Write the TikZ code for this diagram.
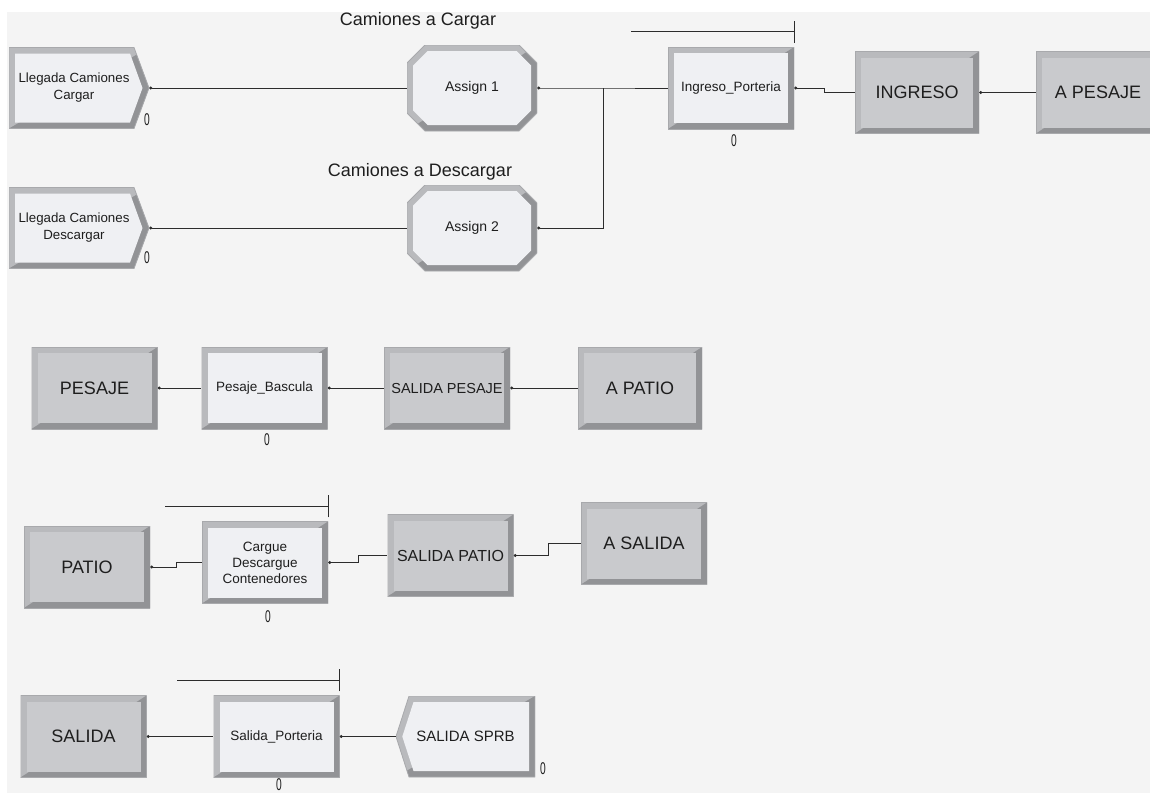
\documentclass[tikz,border=0pt]{standalone}
\usepackage{fontspec}
\setmainfont{Liberation Sans}
\usepackage{graphicx}
\usetikzlibrary{arrows.meta}

\definecolor{backgray}{HTML}{F4F4F4}
\definecolor{modlight}{HTML}{EFF0F3}
\definecolor{moddark}{HTML}{C9CACD}
\definecolor{bevlight}{HTML}{B9BABD}
\definecolor{bevdark}{HTML}{929396}
\definecolor{edgegray}{HTML}{A8A9AC}
\definecolor{textgray}{HTML}{1E1E1E}
\definecolor{linegray}{HTML}{2C2C2C}

\def\ppb{path picture bounding box}
\newcommand\ppcorners{\path (\ppb.north west) coordinate (nw) (\ppb.north east) coordinate (ne)
  (\ppb.south west) coordinate (sw) (\ppb.south east) coordinate (se)
  (\ppb.east) coordinate (ea) (\ppb.west) coordinate (we);}
\newcommand\bevelfill[3]{%
  \begin{scope}
    \clip #1;
    \fill[bevlight] (sw) rectangle (ne);
    \fill[bevdark] (sw) -- (se) -- (ne) -- cycle;
    \fill[#3] #2;
  \end{scope}
  \draw[edgegray, line width=0.8pt] #1;}
\newcommand\contador{\scalebox{0.6}[1]{0}}

\tikzstyle{module}    = [rectangle, inner sep=0pt, minimum width=126pt, minimum height=82pt, fill=backgray,
                         text=textgray, align=center, font=\fontsize{18}{20}\selectfont]
\tikzstyle{procfont}  = [font=\fontsize{13.5}{16}\selectfont]
\tikzstyle{title}     = [inner sep=0pt, text=textgray, font=\fontsize{18}{20}\selectfont]
\tikzstyle{counter}   = [inner sep=0pt, text=textgray, font=\fontsize{17}{17}\selectfont]
\tikzstyle{conn}      = [draw=linegray, line width=0.9pt, {Circle[length=3pt]}-]
\tikzstyle{queueline} = [draw=linegray, line width=0.9pt]

\tikzset{
  boxmod/.style={module, path picture={\ppcorners
      \bevelfill{(nw) rectangle (se)}{([shift={(6pt,-6pt)}]nw) rectangle ([shift={(-6pt,6pt)}]se)}{#1}}},
  boxmod/.default=moddark,
  createmod/.style={module, minimum width=140pt, minimum height=81pt, font=\fontsize{13.3}{17}\selectfont,
    path picture={\ppcorners
      \bevelfill{(nw) -- ([xshift=-15pt]ne) -- (ea) -- ([xshift=-15pt]se) -- (sw) -- cycle}
        {([shift={(6pt,-6pt)}]nw) -- ([shift={(-19pt,-6pt)}]ne) -- ([xshift=-6.5pt]ea)
         -- ([shift={(-19pt,6pt)}]se) -- ([shift={(6pt,6pt)}]sw) -- cycle}{modlight}}},
  assignmod/.style={module, minimum width=130pt, minimum height=86pt, font=\fontsize{14}{16}\selectfont,
    path picture={\ppcorners
      \bevelfill{([xshift=18pt]nw) -- ([xshift=-18pt]ne) -- ([yshift=-18pt]ne) -- ([yshift=18pt]se)
         -- ([xshift=-18pt]se) -- ([xshift=18pt]sw) -- ([yshift=18pt]sw) -- ([yshift=-18pt]nw) -- cycle}
        {([shift={(20.5pt,-6pt)}]nw) -- ([shift={(-20.5pt,-6pt)}]ne) -- ([shift={(-6pt,-20.5pt)}]ne)
         -- ([shift={(-6pt,20.5pt)}]se) -- ([shift={(-20.5pt,6pt)}]se) -- ([shift={(20.5pt,6pt)}]sw)
         -- ([shift={(6pt,20.5pt)}]sw) -- ([shift={(6pt,-20.5pt)}]nw) -- cycle}{modlight}}},
  disposemod/.style={module, minimum width=139pt, minimum height=81pt, font=\fontsize{15}{17}\selectfont,
    path picture={\ppcorners
      \bevelfill{([xshift=13pt]nw) -- (ne) -- (se) -- ([xshift=13pt]sw) -- (we) -- cycle}
        {([shift={(17.5pt,-6pt)}]nw) -- ([shift={(-6pt,-6pt)}]ne) -- ([shift={(-6pt,6pt)}]se)
         -- ([shift={(17.5pt,6pt)}]sw) -- ([xshift=6.3pt]we) -- cycle}{modlight}}},
}

\begin{document}
\begin{tikzpicture}[x=1pt, y=-1pt]
    \useasboundingbox (0,0) rectangle (1150,793);
    \clip (0,0) rectangle (1150,793);
    \fill[white] (0,0) rectangle (1150,793);
    \fill[backgray] (7,12) rectangle (1150,793);

    % llegadas y asignaciones
    \node (crea1)     [createmod] at (79,88)   {Llegada Camiones\hspace*{10pt}\\Cargar\hspace*{10pt}};
    \node (crea2)     [createmod] at (79,228)  {Llegada Camiones\hspace*{10pt}\\Descargar\hspace*{10pt}};
    \node (asig1)     [assignmod] at (472,88)  {Assign 1};
    \node (asig2)     [assignmod] at (472,228) {Assign 2};
    \node (tcargar)   [title]     at (418,21)  {Camiones a Cargar};
    \node (tdescarga) [title]     at (420,172) {Camiones a Descargar};
    \coordinate (junta) at (603,88);

    % porteria de ingreso
    \node (ingpor)  [boxmod=modlight, procfont]   at (731,88)    {Ingreso\_Porteria};
    \node (ingreso) [boxmod, minimum width=124pt] at (917,92.5)  {INGRESO};
    \node (apesaje) [boxmod, minimum width=124pt] at (1098,92.5) {A PESAJE};

    % pesaje
    \node (pesaje)  [boxmod]                    at (94.5,388)  {PESAJE};
    \node (pesbas)  [boxmod=modlight, procfont] at (264.5,388) {Pesaje\_Bascula};
    \node (salpes)  [boxmod, font=\fontsize{14.5}{16}\selectfont] at (447,388) {SALIDA PESAJE};
    \node (apatio)  [boxmod, minimum width=124pt] at (640,388) {A PATIO};

    % patio
    \node (patio)   [boxmod]                    at (87,567)    {PATIO};
    \node (cargue)  [boxmod=modlight, procfont] at (265,562.5) {Cargue\\Descargue\\Contenedores};
    \node (salpat)  [boxmod, font=\fontsize{16}{18}\selectfont] at (450.5,555.5) {SALIDA PATIO};
    \node (asalida) [boxmod]                    at (644,543.5) {A SALIDA};

    % salida
    \node (salida)  [boxmod]                    at (83.5,736.5)  {SALIDA};
    \node (salpor)  [boxmod=modlight, procfont] at (276.5,736.5) {Salida\_Porteria};
    \node (sprb)    [disposemod]                at (465.5,736.5) {SALIDA SPRB};

    % contadores
    \node (n1) [counter] at (147,120) {\contador};
    \node (n2) [counter] at (147,258) {\contador};
    \node (n3) [counter] at (734,141) {\contador};
    \node (n4) [counter] at (267,440) {\contador};
    \node (n5) [counter] at (268,617) {\contador};
    \node (n6) [counter] at (279,785) {\contador};
    \node (n7) [counter] at (543,769) {\contador};

    % colas
    \foreach \p in {ingpor, cargue, salpor} {
        \draw[queueline] ([yshift=15pt]\p.north east) -- ++(-163pt,0pt);
        \draw[queueline] ([yshift=4pt]\p.north east) -- ([yshift=26pt]\p.north east);
    }

    % conexiones
    \draw[conn] (crea1.east)   -- (asig1.west);
    \draw[conn] (crea2.east)   -- (asig2.west);
    \draw[conn] (asig1.east)   -- (junta) -- (ingpor.west);
    \draw[conn] (asig2.east)   -| (junta);
    \draw[conn] (ingpor.east)  -- ++(30pt,0pt) |- (ingreso.west);
    \draw[conn] (ingreso.east) -- (apesaje.west);
    \draw[conn] (pesaje.east)  -- (pesbas.west);
    \draw[conn] (pesbas.east)  -- (salpes.west);
    \draw[conn] (salpes.east)  -- (apatio.west);
    \draw[conn] (patio.east)   -- ++(26pt,0pt) |- (cargue.west);
    \draw[conn] (cargue.east)  -- ++(30pt,0pt) |- (salpat.west);
    \draw[conn] (salpat.east)  -- ++(35pt,0pt) |- (asalida.west);
    \draw[conn] (salida.east)  -- (salpor.west);
    \draw[conn] (salpor.east)  -- (sprb.west);
\end{tikzpicture}
\end{document}
